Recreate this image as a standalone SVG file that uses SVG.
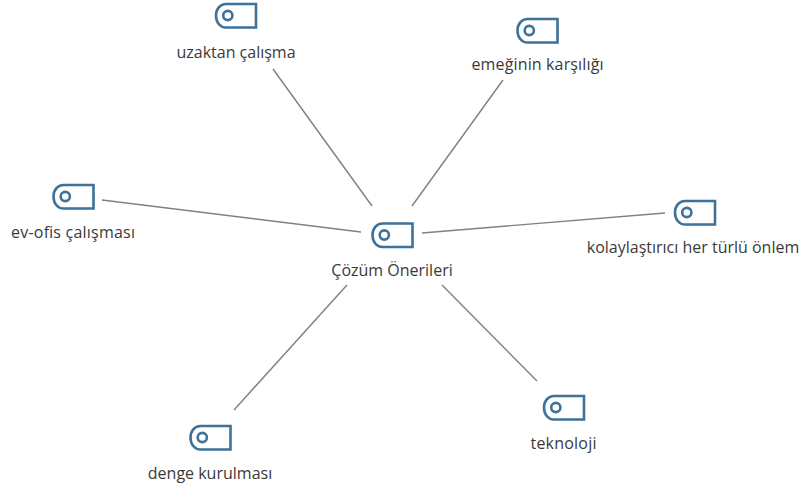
<svg xmlns="http://www.w3.org/2000/svg" width="799" height="488" viewBox="0 0 799 488">
<style>
text{font-family:"Open Sans","Noto Sans","Liberation Sans",sans-serif;font-size:16px;fill:#3a3a3a;text-anchor:middle}
.c{stroke:#808080;stroke-width:1.4;fill:none}
.s{fill:none;stroke:#3d7299;stroke-width:2.6}
</style>
<defs>
<g id="tag">
<path class="s" d="M11 1H41V24.500H11C5 24.500 1 19 1 12.750C1 6 5 1 11 1Z"/>
<circle class="s" cx="12.800" cy="12.500" r="4.600"/>
</g>
</defs>
<rect width="799" height="488" fill="#fff"/>
<g id="connectors">
<line class="c" x1="273" y1="69" x2="372" y2="206"/>
<line class="c" x1="503" y1="80" x2="412" y2="206"/>
<line class="c" x1="102" y1="200" x2="361" y2="232"/>
<line class="c" x1="665" y1="213" x2="422" y2="233"/>
<line class="c" x1="347" y1="285" x2="234" y2="410"/>
<line class="c" x1="442" y1="285" x2="537" y2="381"/>
</g>
<g id="n-center"><use href="#tag" x="371.500" y="222.500"/><text x="392" y="276">Çözüm Önerileri</text></g>
<g id="n-uzaktan"><use href="#tag" x="215" y="3"/><text x="236" y="58">uzaktan çalışma</text></g>
<g id="n-emek"><use href="#tag" x="516.500" y="18"/><text x="537.500" y="70" textLength="132">emeğinin karşılığı</text></g>
<g id="n-evofis"><use href="#tag" x="52.500" y="184"/><text x="73" y="238" textLength="124">ev-ofis çalışması</text></g>
<g id="n-kolay"><use href="#tag" x="674" y="200"/><text x="693" y="253">kolaylaştırıcı her türlü önlem</text></g>
<g id="n-denge"><use href="#tag" x="189.500" y="425"/><text x="210" y="479">denge kurulması</text></g>
<g id="n-teknoloji"><use href="#tag" x="543" y="395"/><text x="563.500" y="449" textLength="66">teknoloji</text></g>
</svg>
